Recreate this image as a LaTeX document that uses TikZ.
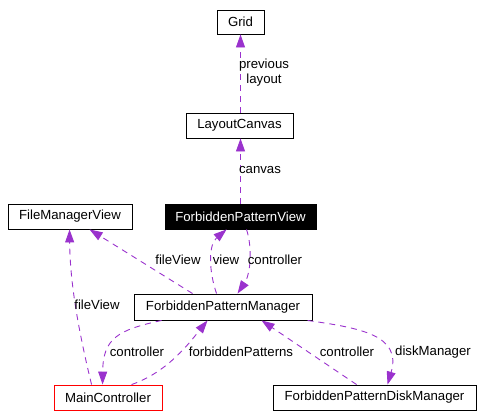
\documentclass[tikz,border=0pt]{standalone}
\usepackage{fontspec}
\setmainfont{Liberation Sans}
\usetikzlibrary{arrows.meta}
\definecolor{edgecol}{HTML}{9A32CD}
\tikzset{
  box/.style={draw=black, line width=0.9pt, fill=white, inner sep=0pt, font=\fontsize{13.2}{15}\selectfont},
  edge/.style={draw=edgecol, line width=0.9pt, dash pattern=on 6pt off 5pt, -{Triangle[length=13pt,width=9pt,fill=edgecol]}},
  lbl/.style={inner sep=0pt, font=\fontsize{13.2}{15}\selectfont, align=center}
}
\begin{document}
\begin{tikzpicture}[x=1pt,y=-1pt]
\useasboundingbox (0,0) rectangle (503,418);
% nodes
\node[box, minimum width=47pt, minimum height=24pt] (grid) at (240.5,22) {Grid};
\node[box, minimum width=107pt, minimum height=25pt] (lc) at (239.5,125.5) {LayoutCanvas};
\node[box, minimum width=124pt, minimum height=25pt] (fmv) at (70,216.5) {FileManagerView};
\node[box, fill=black, text=white, minimum width=151pt, minimum height=25pt] (fpv) at (240.5,216.5) {ForbiddenPatternView};
\node[box, minimum width=178pt, minimum height=26pt] (fpm) at (223,307) {ForbiddenPatternManager};
\node[box, draw=red, minimum width=108pt, minimum height=25pt] (mc) at (108,397.5) {MainController};
\node[box, minimum width=203pt, minimum height=25pt] (fpdm) at (374.5,397.5) {ForbiddenPatternDiskManager};
% edges
\draw[edge] (lc.north -| grid.south) -- (grid.south);
\draw[edge] (fpv.north) -- (fpv.north |- lc.south);
\draw[edge] ([xshift=59pt]fpm.north west) -- ([xshift=82pt]fmv.south west);
\draw[edge] ([xshift=83pt]fpm.north west) .. controls (209,272) and (208,245) .. ([xshift=62pt]fpv.south west);
\draw[edge] ([xshift=82pt]fpv.south west) .. controls (253,250) and (250,275) .. ([xshift=104pt]fpm.north west);
\draw[edge] ([xshift=38pt]mc.north west) .. controls (82,345) and (70,290) .. ([xshift=62pt]fmv.south west);
\draw[edge] ([xshift=28pt]fpm.south west) .. controls (118,330) and (103,338) .. ([xshift=49pt]mc.north west);
\draw[edge] ([xshift=78pt]mc.north west) .. controls (168,372) and (190,342) .. ([xshift=74pt]fpm.south west);
\draw[edge] ([xshift=84pt]fpdm.north west) -- ([xshift=128pt]fpm.south west);
\draw[edge] ([xshift=174pt]fpm.south west) .. controls (360,328) and (402,335) .. ([xshift=115pt]fpdm.north west);
% labels
\node[lbl] (l1) at (264,73) {previous\\layout};
\node[lbl] (l2) at (260,170) {canvas};
\node[lbl] (l3) at (178,260) {fileView};
\node[lbl] (l4) at (226,260) {view};
\node[lbl] (l5) at (275,260) {controller};
\node[lbl] (l6) at (97,305) {fileView};
\node[lbl] (l7) at (137,352) {controller};
\node[lbl] (l8) at (241,352) {forbiddenPatterns};
\node[lbl] (l9) at (347,352) {controller};
\node[lbl] (l10) at (433,352) {diskManager};
\end{tikzpicture}
\end{document}
